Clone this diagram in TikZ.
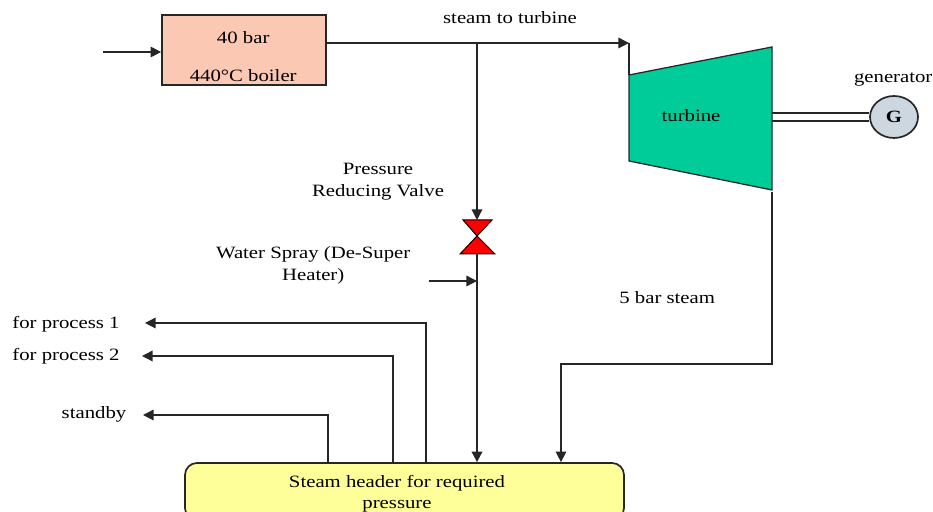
\documentclass[tikz,border=0pt]{standalone}
\usepackage{fontspec}
\setmainfont[FakeStretch=1.2]{Liberation Serif}
\usetikzlibrary{arrows.meta,shapes.geometric}
\definecolor{boilerfill}{HTML}{FBC8B4}
\definecolor{turbinefill}{HTML}{00CC99}
\definecolor{genfill}{HTML}{CDD7DF}
\definecolor{headerfill}{HTML}{FFFF99}
\tikzset{
	>={Triangle[length=7.5pt,width=7.5pt]},
	txt/.style={inner sep=0pt,align=center,font=\fontsize{12.3}{14}\selectfont},
	pipe/.style={draw=black!85,line width=0.9pt},
	part/.style={draw=black!85,line width=1.2pt},
}
\begin{document}
\begin{tikzpicture}
	\clip (0,0) rectangle (23.325,12.8);
	% units and equipment
	\node[part,fill=boilerfill,minimum width=4.1cm,minimum height=1.75cm] (boiler) at (6.1,11.55) {};
	\node[txt] (boilertop) at (6.08,11.86) {40 bar};
	\node[txt] (boilerbot) at (6.08,10.91) {440°C boiler};
	\draw[part,line width=0.9pt,fill=turbinefill] (15.725,10.925) coordinate (turbin) -- (19.3,11.625) -- (19.3,8.05) -- (15.725,8.775) -- cycle;
	\node[txt] (turbine) at (17.275,9.9) {turbine};
	\node[part,ellipse,fill=genfill,minimum width=1.2cm,minimum height=1.05cm,inner sep=0pt] (gen) at (22.35,9.875) {\fontsize{12.3}{14}\selectfont\bfseries G};
	\node[part,rounded corners=0.3cm,fill=headerfill,minimum width=10.975cm,minimum height=1.425cm] (header) at (10.1125,0.5125) {};
	\node[txt] (headertext) at (9.925,0.45) {Steam header for required\\[1.2pt]pressure};
	\draw[line width=0.7pt,fill=red] (11.575,7.3) coordinate (valvein) -- (12.3,7.3) -- (11.925,6.9) -- cycle;
	\draw[line width=0.7pt,fill=red] (11.925,6.9) -- (12.375,6.45) -- (11.5,6.45) -- cycle;
	% labels
	\node[txt] (steamlabel) at (12.75,12.35) {steam to turbine};
	\node[txt] (genlabel) at (22.33,10.8) {generator};
	\node[txt] (valvelabel) at (9.45,8.26) {Pressure\\[1.2pt]Reducing Valve};
	\node[txt] (spraylabel) at (7.83,6.17) {Water Spray (De-Super\\[1.2pt]Heater)};
	\node[txt] (barlabel) at (16.68,5.37) {5 bar steam};
	\node[txt] (process1) at (1.65,4.7) {for process 1};
	\node[txt] (process2) at (1.65,3.9) {for process 2};
	\node[txt] (standby) at (2.35,2.45) {standby};
	% free ends and bends
	\coordinate (feed) at (2.575,11.5);
	\coordinate (out) at (8.15,11.725);
	\coordinate (top) at (15.725,11.725);
	\coordinate (tee) at (11.925,11.725);
	\coordinate (valveout) at (11.925,6.45);
	\coordinate (spray) at (10.725,5.775);
	\coordinate (sprayend) at (11.925,5.775);
	\coordinate (tip1) at (3.625,4.725);
	\coordinate (tip2) at (3.55,3.9);
	\coordinate (tip3) at (3.575,2.425);
	\coordinate (tap1) at (10.65,4.725);
	\coordinate (tap2) at (9.825,3.9);
	\coordinate (tap3) at (8.2,2.425);
	\coordinate (exhaust) at (19.3,8);
	\coordinate (bend1) at (19.3,3.7);
	\coordinate (bend2) at (14.025,3.7);
	\coordinate (shaft1) at (19.3,9.975);
	\coordinate (shaft2) at (19.3,9.775);
	% pipes
	\draw[pipe,->] (feed) -- (feed -| boiler.west);
	\draw[pipe,->] (out) -- (top);
	\draw[part,line width=1.5pt] (top) -- (turbin);
	\draw[pipe,->] (tee) -- (tee |- valvein);
	\draw[pipe,line width=1.2pt,->] (valveout) -- (valveout |- header.north);
	\draw[pipe,->] (spray) -- (sprayend);
	\draw[pipe] (shaft1) -- (shaft1 -| gen.west);
	\draw[pipe] (shaft2) -- (shaft2 -| gen.west);
	\draw[pipe,->] (tap1 |- header.north) -- (tap1) -- (tip1);
	\draw[pipe,->] (tap2 |- header.north) -- (tap2) -- (tip2);
	\draw[pipe,->] (tap3 |- header.north) -- (tap3) -- (tip3);
	\draw[pipe,->] (exhaust) -- (bend1) -- (bend2) -- (bend2 |- header.north);
\end{tikzpicture}
\end{document}
